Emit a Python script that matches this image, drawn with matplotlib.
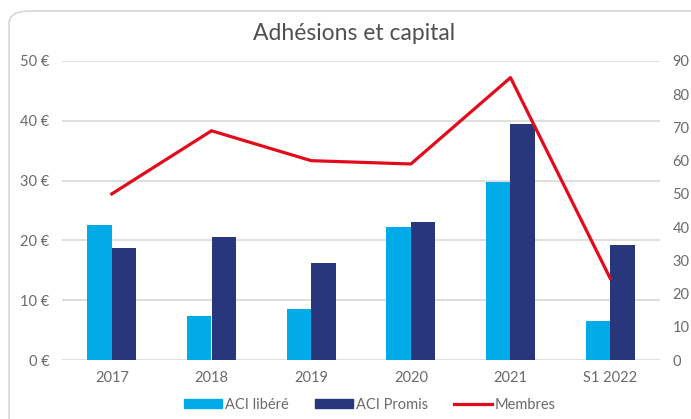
import numpy as np
import matplotlib.pyplot as plt
from matplotlib.patches import FancyBboxPatch, Patch
from matplotlib.lines import Line2D

# Données
annees = ['2017', '2018', '2019', '2020', '2021', 'S1 2022']
aci_libere = [22.5, 7.4, 8.5, 22.2, 29.8, 6.6]
aci_promis = [18.7, 20.5, 16.3, 23.1, 39.4, 19.3]
membres = [50, 69, 60, 59, 85, 24.6]

bleu_clair = '#00ABE7'
bleu_fonce = '#28367C'
rouge = '#E30A1C'
gris_texte = '#6A6A6A'

plt.rcParams['font.family'] = ['Lato', 'DejaVu Sans']

fig = plt.figure(figsize=(6.91, 4.19), dpi=100)

# Cadre arrondi autour du graphique
cadre = FancyBboxPatch((9 / 691, -0.05), 1.05, (419 - 11) / 419 + 0.05,
                       boxstyle='round,pad=0,rounding_size=0.03',
                       transform=fig.transFigure, facecolor='white',
                       edgecolor='#D0D0D0', linewidth=1.0, zorder=-10)
fig.patches.append(cadre)

ax = fig.add_axes([62 / 691, 1 - 360 / 419, (660 - 62) / 691, (360 - 61) / 419])
ax.set_facecolor('none')
x = np.arange(len(annees))
w = 0.245

ax.bar(x - w / 2, aci_libere, w, color=bleu_clair, zorder=2)
ax.bar(x + w / 2, aci_promis, w, color=bleu_fonce, zorder=2)

ax.set_ylim(0, 50)
ax.set_yticks(range(0, 51, 10))
ax.set_yticklabels([f'{v} €' for v in range(0, 51, 10)])
ax.set_xlim(-0.5, len(annees) - 0.5)
ax.set_xticks(x)
ax.set_xticklabels(annees)
for s in ax.spines.values():
    s.set_visible(False)
ax.tick_params(axis='both', length=0, labelsize=10.5, colors=gris_texte)
ax.tick_params(axis='y', pad=9)
ax.tick_params(axis='x', pad=8)
ax.set_axisbelow(True)
ax.yaxis.grid(True, color='#D9D9D9', linewidth=1.2)

ax2 = ax.twinx()
ax2.plot(x, membres, color=rouge, linewidth=2.3, zorder=3)
ax2.set_ylim(0, 90)
ax2.set_yticks(range(0, 91, 10))
for s in ax2.spines.values():
    s.set_visible(False)
ax2.tick_params(axis='y', length=0, labelsize=10.5, colors=gris_texte, pad=9)

fig.text(354 / 691, 1 - 33 / 419, 'Adhésions et capital', ha='center', va='center',
         fontsize=16.5, color='#505050')

handles = [Patch(color=bleu_clair, label='ACI libéré'),
           Patch(color=bleu_fonce, label='ACI Promis'),
           Line2D([], [], color=rouge, linewidth=2.3, label='Membres')]
fig.legend(handles=handles, loc='center', bbox_to_anchor=(370 / 691, 1 - 405 / 419),
           ncol=3, frameon=False, fontsize=10.5, labelcolor=gris_texte,
           handlelength=2.6, handleheight=0.6, handletextpad=0.2, columnspacing=1.8)

fig.savefig('out.png', dpi=100)
